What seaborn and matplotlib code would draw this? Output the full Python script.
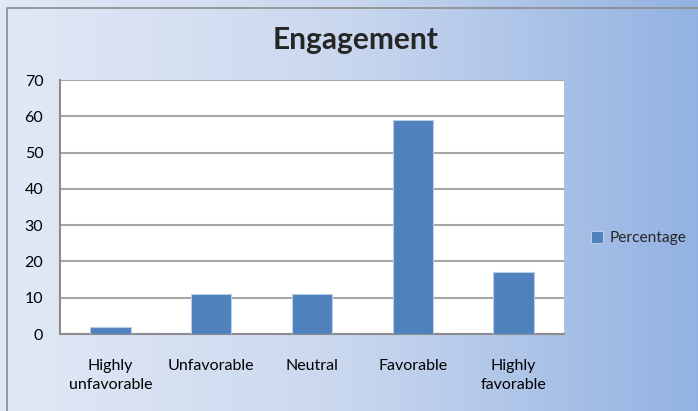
import numpy as np
import pandas as pd
import matplotlib
matplotlib.use("Agg")
import matplotlib.pyplot as plt
from matplotlib.colors import LinearSegmentedColormap
import seaborn as sns

categories = ["Highly\nunfavorable", "Unfavorable", "Neutral", "Favorable", "Highly\nfavorable"]
values = [2, 11, 11, 59, 17]
series_name = "Percentage"
title = "Engagement"
yticks = [0, 10, 20, 30, 40, 50, 60, 70]

sns.set_style("white")
plt.rcParams['font.family'] = ['Lato', 'DejaVu Sans']

W, H = 698, 411
fig = plt.figure(figsize=(W / 100, H / 100), dpi=100)

# gradient background
bg = fig.add_axes([0, 0, 1, 1], zorder=0)
cmap = LinearSegmentedColormap.from_list("bg", ["#e2e9f6", "#c9d7ee", "#93b2e2"])
grad = np.linspace(0, 1, 256).reshape(1, -1)
bg.imshow(grad, aspect="auto", cmap=cmap, extent=[0, 1, 0, 1])
bg.plot([7 / W, 7 / W, 1], [0, 1 - 8 / H, 1 - 8 / H], color="#8c8c8c", lw=1.2)
bg.set_xlim(0, 1)
bg.set_ylim(0, 1)
bg.axis("off")

left, right = 60 / W, 564 / W
bottom, top = 1 - 334 / H, 1 - 80 / H
ax = fig.add_axes([left, bottom, right - left, top - bottom], zorder=1)
ax.set_facecolor("white")

df = pd.DataFrame({"Category": categories, series_name: values})
sns.barplot(data=df, x="Category", y=series_name, color="#4f81bd", width=0.4, saturation=1,
            edgecolor="#b9cde6", linewidth=0.8, ax=ax, zorder=3, label=series_name)
handles, labels = ax.get_legend_handles_labels()
if ax.get_legend() is not None:
    ax.get_legend().remove()

ax.set_ylim(0, 70)
ax.set_xlim(-0.5, 4.5)
ax.set_yticks(yticks)
ax.set_yticklabels([str(t) for t in yticks], fontsize=11.5)
ax.yaxis.grid(True, color="#a6a6a6", lw=1.5, zorder=0)
ax.set_axisbelow(True)
ax.set_xlabel("")
ax.set_ylabel("")
for s in ["top", "right"]:
    ax.spines[s].set_visible(False)
for s in ["left", "bottom"]:
    ax.spines[s].set_color("#8c8c8c")
    ax.spines[s].set_linewidth(1.5)
ax.tick_params(axis="y", which="major", length=5, width=1.2, color="#8c8c8c", pad=7, labelcolor="black")
ax.set_xticks(range(len(categories)))
ax.set_xticklabels(categories, fontsize=11.5, linespacing=1.45)
ax.tick_params(axis="x", which="major", length=0, pad=18, labelcolor="black")
ax.set_xticks([i - 0.5 for i in range(len(categories) + 1)], minor=True)
ax.tick_params(axis="x", which="minor", length=6, width=1.2, color="#8c8c8c", direction="out")

fig.text(356 / W, 1 - 40 / H, title, ha="center", va="center", fontsize=21.5, fontweight="bold")

fig.legend(handles[:1], [series_name], loc="center left", bbox_to_anchor=(577 / W, 1 - 238 / H),
           frameon=False, fontsize=11.2, handlelength=0.8, handleheight=0.8, handletextpad=0.4)

fig.savefig("out.png", dpi=100)
